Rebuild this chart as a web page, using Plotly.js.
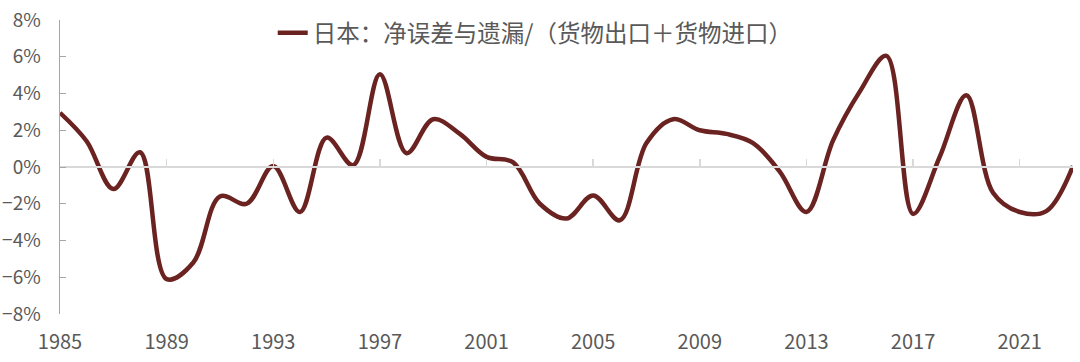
<!DOCTYPE html>
<html><head><meta charset="utf-8">
<script src="https://cdn.plot.ly/plotly-3.0.1.min.js"></script>
<style>html,body{margin:0;padding:0;background:#fff}#c{width:1080px;height:362px}</style>
</head><body><div id="c"></div>
<script>
const years = [1985,1986,1987,1988,1989,1990,1991,1992,1993,1994,1995,1996,1997,1998,1999,2000,2001,2002,2003,2004,2005,2006,2007,2008,2009,2010,2011,2012,2013,2014,2015,2016,2017,2018,2019,2020,2021,2022,2023];
const values = [2.95,1.4,-1.2,0.8,-6.1,-5.2,-1.6,-2.0,0.05,-2.45,1.6,0.1,5.05,0.75,2.6,1.8,0.55,0.25,-2.0,-2.8,-1.55,-2.9,1.3,2.6,2.0,1.8,1.3,-0.25,-2.45,1.45,4.1,6.05,-2.55,0.55,3.9,-1.4,-2.45,-2.4,0.05];
const tickYears = [1985,1989,1993,1997,2001,2005,2009,2013,2017,2021];
const tickLabels = ['1985','1989','1993','1997','2001','2005','2009','2013','2017','2021'];
const yTicks = [-8,-6,-4,-2,0,2,4,6,8];
const yTickLabels = ['\u22128%','\u22126%','\u22124%','\u22122%','0%','2%','4%','6%','8%'];
const seriesName = '日本：净误差与遗漏/（货物出口＋货物进口）';

const font = "'Noto Sans CJK SC', 'Noto Sans', sans-serif";
const traces = [
  {x: years, y: values, type:'scatter', mode:'lines', name: seriesName,
   line:{color:'#6B2321', width:4.5, shape:'spline', smoothing:1}, xaxis:'x', yaxis:'y'},
  {x: years, y: values, type:'scatter', mode:'lines', showlegend:false, hoverinfo:'skip',
   line:{color:'rgba(0,0,0,0)', width:0}, xaxis:'x2', yaxis:'y'}
];
const layout = {
  width:1080, height:362,
  margin:{l:60, r:7, t:20, b:48, autoexpand:false},
  paper_bgcolor:'#fff', plot_bgcolor:'#fff',
  font:{family:font, color:'#595959'},
  showlegend:true,
  legend:{x:0.21, y:0.956, xanchor:'left', yanchor:'middle', orientation:'h',
          font:{family:font, size:23.5, color:'#595959'}, bgcolor:'rgba(0,0,0,0)'},
  xaxis:{range:[1985,2023], anchor:'free', position:0.5, showline:true, linecolor:'#d9d9d9', linewidth:2,
         ticks:'inside', ticklen:7, tickwidth:1.5, tickcolor:'#d9d9d9', tickvals:tickYears,
         showticklabels:false, showgrid:false, zeroline:false, fixedrange:true},
  xaxis2:{range:[1985,2023], overlaying:'x', anchor:'y', side:'bottom', showline:false, ticks:'',
          tickvals:tickYears, ticktext:tickLabels, showgrid:false, zeroline:false,
          tickfont:{family:font, size:20, color:'#595959'}, ticklabelstandoff:14},
  yaxis:{range:[-8,8], tickvals:yTicks, ticktext:yTickLabels, showline:true, linecolor:'#a6a6a6', linewidth:1.5,
         ticks:'inside', ticklen:6, tickcolor:'#a6a6a6', showgrid:false, zeroline:false,
         tickfont:{family:font, size:19, color:'#595959'}, ticklabelstandoff:14}
};
Plotly.newPlot('c', traces, layout, {staticPlot:true, displayModeBar:false});
</script></body></html>
